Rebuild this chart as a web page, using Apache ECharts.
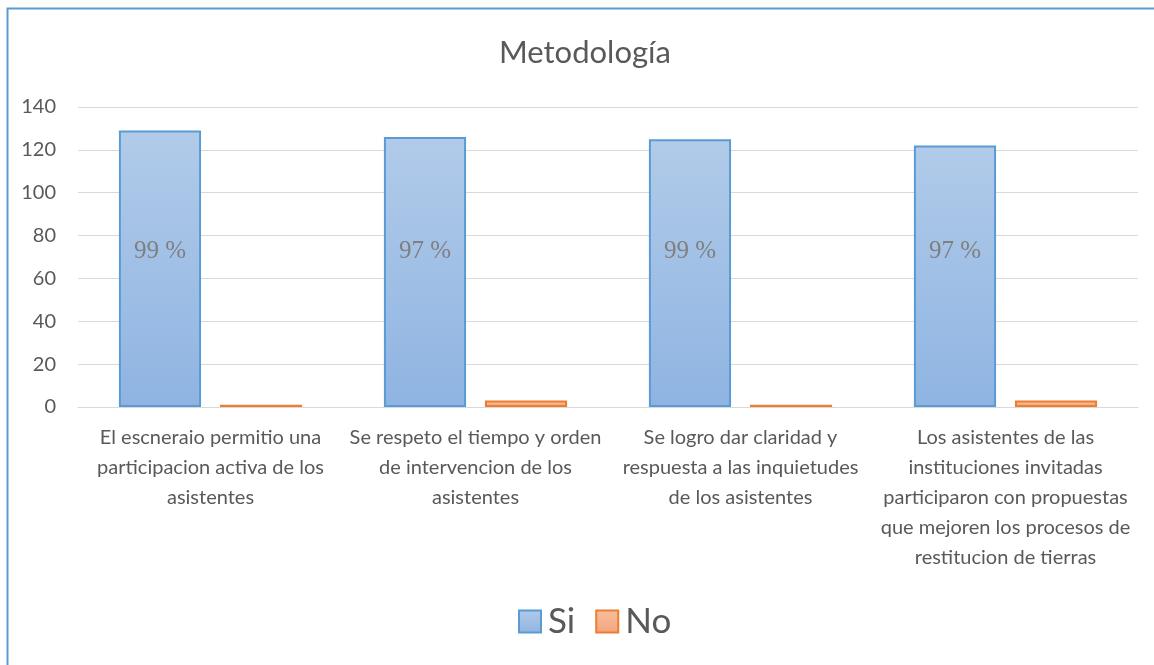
<!DOCTYPE html>
<html>
<head>
<meta charset="utf-8">
<script src="https://cdn.jsdelivr.net/npm/echarts@6/dist/echarts.min.js"></script>
<style>
  html, body { margin: 0; padding: 0; background: #fff; }
  #chart { width: 1154px; height: 665px; }
</style>
</head>
<body>
<div id="chart"></div>
<script>
// categorias (con los saltos de linea del original)
var categories = [
  'El escneraio permitio una\nparticipacion activa de los\nasistentes',
  'Se respeto el tiempo y orden\nde intervencion de los\nasistentes',
  'Se logro dar claridad y\nrespuesta a las inquietudes\nde los asistentes',
  'Los asistentes de las\ninstituciones invitadas\nparticiparon con propuestas\nque mejoren los procesos de\nrestitucion de tierras'
]
var siData = [129, 126, 125, 122]
var noData = [1, 3, 1, 3]
var siLabels = ['99 %', '97 %', '99 %', '97 %']
var yTicks = { min: 0, max: 140, interval: 20 }

var chart = echarts.init(document.getElementById('chart'))

var siColor = new echarts.graphic.LinearGradient(0, 0, 0, 1, [
  { offset: 0, color: '#b1cbe9' },
  { offset: 1, color: '#8fb4e2' }
])
var noColor = new echarts.graphic.LinearGradient(0, 0, 0, 1, [
  { offset: 0, color: '#f7bfa0' },
  { offset: 1, color: '#f2a57c' }
])

var option = {
  animation: false,
  textStyle: { fontFamily: 'Lato' },
  graphic: [
    {
      type: 'rect',
      shape: { x: 7.5, y: 8.5, width: 1300, height: 800 },
      style: { fill: 'none', stroke: '#5b9bd5', lineWidth: 2 }
    }
  ],
  title: {
    text: 'Metodología',
    left: 499,
    top: 37,
    padding: 0,
    textStyle: { fontSize: 31, fontWeight: 'normal', color: '#595959', fontFamily: 'Lato' }
  },
  legend: {
    data: ['Si', 'No'],
    top: 599,
    left: 513,
    icon: 'rect',
    itemWidth: 22,
    itemHeight: 22,
    itemGap: 20,
    textStyle: { fontSize: 35, color: '#595959', fontFamily: 'Lato', padding: [0, 0, 0, 2] }
  },
  grid: {
    left: 78,
    right: 16,
    top: 107,
    bottom: 258
  },
  xAxis: {
    type: 'category',
    data: categories,
    axisLine: { lineStyle: { color: '#d9d9d9', width: 1 } },
    axisTick: { show: false },
    axisLabel: {
      interval: 0,
      fontSize: 20,
      lineHeight: 30,
      color: '#595959',
      margin: 16
    }
  },
  yAxis: {
    type: 'value',
    min: yTicks.min,
    max: yTicks.max,
    interval: yTicks.interval,
    axisLine: { show: false },
    axisTick: { show: false },
    splitLine: { lineStyle: { color: '#d9d9d9', width: 1 } },
    axisLabel: { fontSize: 20, color: '#595959', margin: 22 }
  },
  series: [
    {
      name: 'Si',
      type: 'bar',
      data: siData,
      barWidth: '31%',
      barGap: '23%',
      itemStyle: { color: siColor, borderColor: '#5b9bd5', borderWidth: 2 },
      label: {
        show: true,
        position: 'insideBottom',
        distance: 143,
        fontFamily: 'Liberation Serif',
        fontSize: 25,
        color: '#7f7f7f',
        formatter: function (p) { return siLabels[p.dataIndex] }
      }
    },
    {
      name: 'No',
      type: 'bar',
      data: noData,
      barWidth: '31%',
      itemStyle: { color: noColor, borderColor: '#ed7d31', borderWidth: 2 }
    }
  ]
}

chart.setOption(option)
</script>
</body>
</html>
